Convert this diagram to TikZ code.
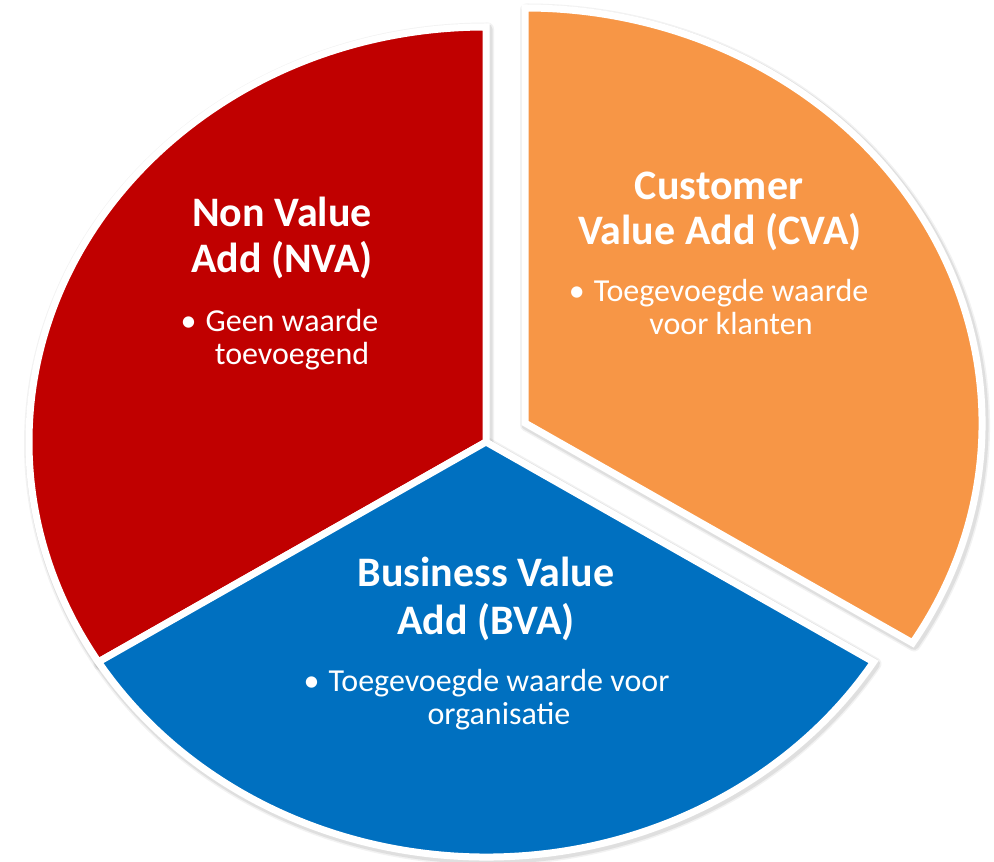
\documentclass[tikz,border=0pt]{standalone}
\usepackage{fontspec}
\setmainfont{Carlito}
\definecolor{nvared}{HTML}{C00000}
\definecolor{cvaorange}{HTML}{F79646}
\definecolor{bvablue}{HTML}{0070C0}
\tikzset{
  sector/.style={draw=white, line width=7pt, line join=miter},
  shadowa/.style={draw=black, draw opacity=0.05, line width=13pt, line join=round},
  shadowb/.style={draw=black, draw opacity=0.08, line width=10pt, line join=round},
  ttl/.style={text=white, font=\fontsize{42}{46}\selectfont\bfseries, anchor=base, inner sep=0pt},
  bul/.style={text=white, font=\fontsize{32}{34}\selectfont, anchor=base, inner sep=0pt},
}
\newcommand{\redpath}{(486,420) -- (486,835) arc[start angle=90, end angle=212, x radius=457, y radius=415] -- cycle}
\newcommand{\bluepath}{(486,420) -- ++(212:457 and 415) arc[start angle=212, end angle=328, x radius=457, y radius=415] -- cycle}
\newcommand{\orangepath}{(525,439) -- ++(328:457 and 415) arc[start angle=328, end angle=450, x radius=457, y radius=415] -- cycle}
\begin{document}
\begin{tikzpicture}[x=1pt,y=1pt]
\useasboundingbox (0,0) rectangle (994,862);
% shadows
\begin{scope}[shift={(1.5,-2)}]
  \draw[shadowa] \redpath;  \draw[shadowb] \redpath;
  \draw[shadowa] \bluepath; \draw[shadowb] \bluepath;
  \draw[shadowa] \orangepath; \draw[shadowb] \orangepath;
\end{scope}
% sectors
\filldraw[sector, fill=nvared] \redpath;
\filldraw[sector, fill=bvablue] \bluepath;
\filldraw[sector, fill=cvaorange] \orangepath;
% red texts
\node[ttl] (nva1) at (282,635) {Non Value};
\node[ttl] (nva2) at (282,589) {Add (NVA)};
\node[bul] (nvab1) at (292,530) {\llap{•\hspace{9pt}}Geen waarde};
\node[bul] (nvab2) at (292,497) {toevoegend};
% orange texts
\node[ttl] (cva1) at (719,662) {Customer};
\node[ttl] (cva2) at (720,617) {Value Add (CVA)};
\node[bul] (cvab1) at (731,560) {\llap{•\hspace{9pt}}Toegevoegde waarde};
\node[bul] (cvab2) at (731,527) {voor klanten};
% blue texts
\node[ttl] (bva1) at (486,275) {Business Value};
\node[ttl] (bva2) at (486,227) {Add (BVA)};
\node[bul] (bvab1) at (499,170) {\llap{•\hspace{9pt}}Toegevoegde waarde voor};
\node[bul] (bvab2) at (499,137) {organisatie};
\end{tikzpicture}
\end{document}
